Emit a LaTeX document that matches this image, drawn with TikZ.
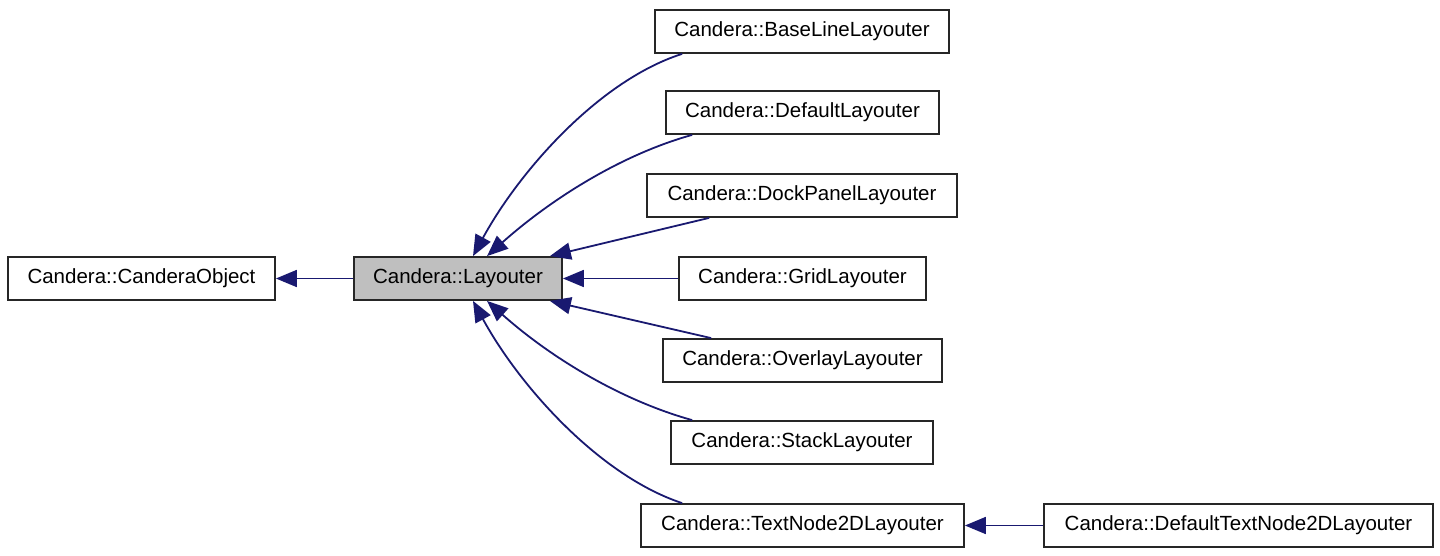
\documentclass[tikz,border=0pt]{standalone}
\usepackage{fontspec}
\setmainfont{Liberation Sans}
\usetikzlibrary{arrows.meta}
\definecolor{edgeblue}{HTML}{191970}
\definecolor{boxgray}{HTML}{BFBFBF}
\tikzset{
  cls/.style={draw=black!85, line width=1.8pt, fill=white, minimum height=43pt, inner sep=0pt,
    font=\fontsize{20.5}{22}\selectfont},
  edge/.style={draw=edgeblue, line width=1.8pt, -{Triangle[length=21pt,width=17pt]}},
}
\begin{document}
\begin{tikzpicture}[x=1pt,y=-1pt]
\useasboundingbox (0,0) rectangle (1440,556);
\node[cls, minimum width=267pt] (obj) at (141.5,278.5) {Candera::CanderaObject};
\node[cls, minimum width=208pt, fill=boxgray] (lay) at (458,278.5) {Candera::Layouter};
\node[cls, minimum width=294pt] (bl) at (802,31.5) {Candera::BaseLineLayouter};
\node[cls, minimum width=273pt] (dl) at (802.5,112.5) {Candera::DefaultLayouter};
\node[cls, minimum width=310pt] (dp) at (802,195.5) {Candera::DockPanelLayouter};
\node[cls, minimum width=247pt] (gr) at (802.5,278.5) {Candera::GridLayouter};
\node[cls, minimum width=279pt] (ov) at (802.5,360.5) {Candera::OverlayLayouter};
\node[cls, minimum width=262pt] (st) at (802,442.5) {Candera::StackLayouter};
\node[cls, minimum width=323pt] (tn) at (802.5,525.5) {Candera::TextNode2DLayouter};
\node[cls, minimum width=389pt] (dtn) at (1238.5,525.5) {Candera::DefaultTextNode2DLayouter};

\draw[edge] (lay.west) -- (obj.east);
\draw[edge] ([xshift=28pt]bl.south west) .. controls (600,80) and (520,170) .. ([xshift=15pt]lay.north);
\draw[edge] ([xshift=27pt]dl.south west) .. controls (620,155) and (550,200) .. ([xshift=29pt]lay.north);
\draw[edge] ([xshift=63pt]dp.south west) -- ([xshift=-13pt]lay.north east);
\draw[edge] (gr.west) -- (lay.east);
\draw[edge] ([xshift=49pt]ov.north west) -- ([xshift=-13pt]lay.south east);
\draw[edge] ([xshift=22pt]st.north west) .. controls (620,400) and (550,357) .. ([xshift=29pt]lay.south);
\draw[edge] ([xshift=42pt]tn.north west) .. controls (600,476) and (520,387) .. ([xshift=15pt]lay.south);
\draw[edge] (dtn.west) -- (tn.east);
\end{tikzpicture}
\end{document}
